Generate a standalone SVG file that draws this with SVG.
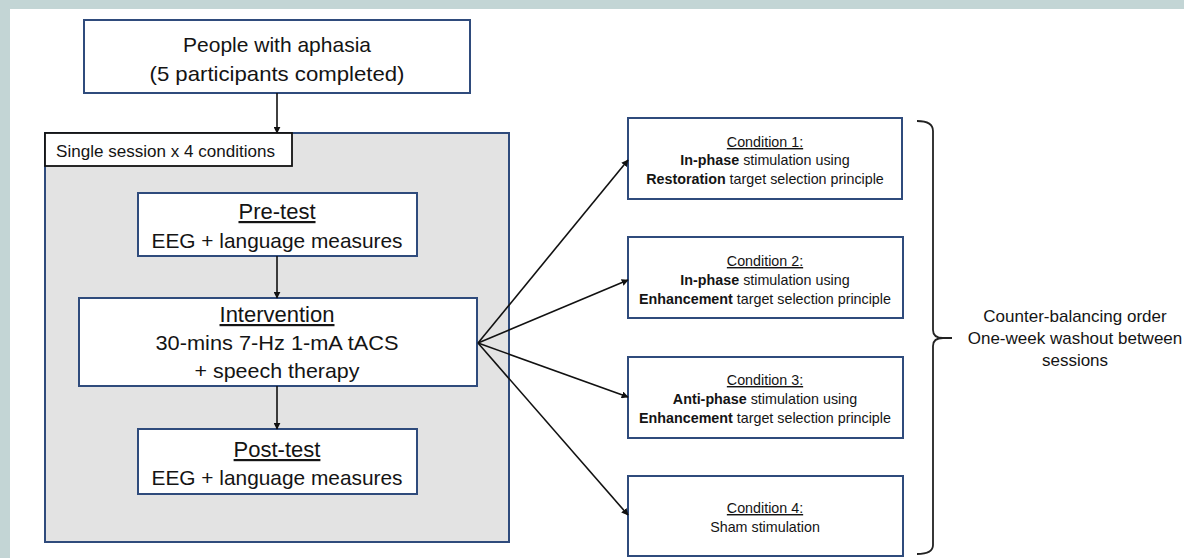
<svg xmlns="http://www.w3.org/2000/svg" width="1184" height="558" viewBox="0 0 1184 558">
  <defs>
    <style>
      text { font-family: "Liberation Sans", Arial, sans-serif; fill: #141414; }
      .node { fill: #ffffff; stroke: #2f4b7c; stroke-width: 2; }
      .big { font-size: 21px; text-anchor: middle; }
      .head { font-size: 22px; text-anchor: middle; text-decoration: underline; }
      .cond { font-size: 14.3px; text-anchor: middle; }
      .side { font-size: 17px; text-anchor: middle; }
      .u { text-decoration: underline; }
      .b { font-weight: bold; }
      .conn { fill: none; stroke: #111111; stroke-width: 1.6; marker-end: url(#arrow); }
    </style>
    <marker id="arrow" viewBox="0 0 10 10" refX="9" refY="5" markerWidth="7" markerHeight="7" orient="auto" markerUnits="userSpaceOnUse">
      <path d="M0,0 L10,5 L0,10 Z" fill="#111111"/>
    </marker>
  </defs>

  <!-- frame -->
  <rect x="0" y="0" width="1184" height="558" fill="#ffffff"/>
  <rect x="0" y="0" width="1184" height="9" fill="#c3d5d5"/>
  <rect x="0" y="0" width="10" height="558" fill="#c3d5d5"/>

  <g id="session">
    <rect x="45" y="133" width="464" height="409" fill="#e3e3e3" stroke="#2f4b7c" stroke-width="2"/>
  </g>
  <g id="session-label">
    <rect x="45" y="133" width="247" height="33" fill="#ffffff" stroke="#111111" stroke-width="1.8"/>
    <text x="56" y="157" font-size="17" textLength="219" lengthAdjust="spacingAndGlyphs">Single session x 4 conditions</text>
  </g>

  <g id="people">
    <rect class="node" x="84" y="20" width="386" height="73"/>
    <text class="big" x="277" y="52" font-size="22">People with aphasia</text>
    <text class="big" x="277" y="81" font-size="22" textLength="255" lengthAdjust="spacingAndGlyphs">(5 participants completed)</text>
  </g>

  <g id="pretest">
    <rect class="node" x="138" y="193" width="279" height="63"/>
    <text class="head" x="277" y="219">Pre-test</text>
    <text class="big" x="277" y="248" textLength="251" lengthAdjust="spacingAndGlyphs">EEG + language measures</text>
  </g>

  <g id="intervention">
    <rect class="node" x="79" y="298" width="398" height="88"/>
    <text class="head" x="277" y="322">Intervention</text>
    <text class="big" x="277" y="350" textLength="243" lengthAdjust="spacingAndGlyphs">30-mins 7-Hz 1-mA tACS</text>
    <text class="big" x="277" y="378" textLength="165" lengthAdjust="spacingAndGlyphs">+ speech therapy</text>
  </g>

  <g id="posttest">
    <rect class="node" x="138" y="429" width="279" height="65"/>
    <text class="head" x="277" y="457">Post-test</text>
    <text class="big" x="277" y="485" textLength="251" lengthAdjust="spacingAndGlyphs">EEG + language measures</text>
  </g>

  <g id="condition1">
    <rect class="node" x="628" y="118" width="274" height="81"/>
    <text class="cond u" x="765" y="147">Condition 1:</text>
    <text class="cond" x="765" y="165"><tspan class="b">In-phase</tspan> stimulation using</text>
    <text class="cond" x="765" y="184"><tspan class="b">Restoration</tspan> target selection principle</text>
  </g>

  <g id="condition2">
    <rect class="node" x="628" y="237" width="275" height="81"/>
    <text class="cond u" x="765" y="266">Condition 2:</text>
    <text class="cond" x="765" y="285"><tspan class="b">In-phase</tspan> stimulation using</text>
    <text class="cond" x="765" y="304"><tspan class="b">Enhancement</tspan> target selection principle</text>
  </g>

  <g id="condition3">
    <rect class="node" x="628" y="357" width="275" height="81"/>
    <text class="cond u" x="765" y="385">Condition 3:</text>
    <text class="cond" x="765" y="404"><tspan class="b">Anti-phase</tspan> stimulation using</text>
    <text class="cond" x="765" y="423"><tspan class="b">Enhancement</tspan> target selection principle</text>
  </g>

  <g id="condition4">
    <rect class="node" x="628" y="476" width="275" height="80"/>
    <text class="cond u" x="765" y="513">Condition 4:</text>
    <text class="cond" x="765" y="532">Sham stimulation</text>
  </g>

  <g id="note">
    <path d="M917,121 Q933,121 933,131 L933,330 Q933,338 943,338 L952,338 M943,338 Q933,338 933,346 L933,545 Q933,554 917,554" fill="none" stroke="#222222" stroke-width="1.8"/>
    <text class="side" x="1075" y="322">Counter-balancing order</text>
    <text class="side" x="1075" y="344">One-week washout between</text>
    <text class="side" x="1075" y="366">sessions</text>
  </g>

  <g id="connectors">
    <line class="conn" x1="277" y1="93" x2="277" y2="133"/>
    <line class="conn" x1="277" y1="256" x2="277" y2="298"/>
    <line class="conn" x1="277" y1="386" x2="277" y2="429"/>
    <line class="conn" x1="478" y1="343" x2="628" y2="160"/>
    <line class="conn" x1="478" y1="343" x2="628" y2="280"/>
    <line class="conn" x1="478" y1="343" x2="628" y2="397"/>
    <line class="conn" x1="478" y1="343" x2="628" y2="515"/>
  </g>
</svg>
